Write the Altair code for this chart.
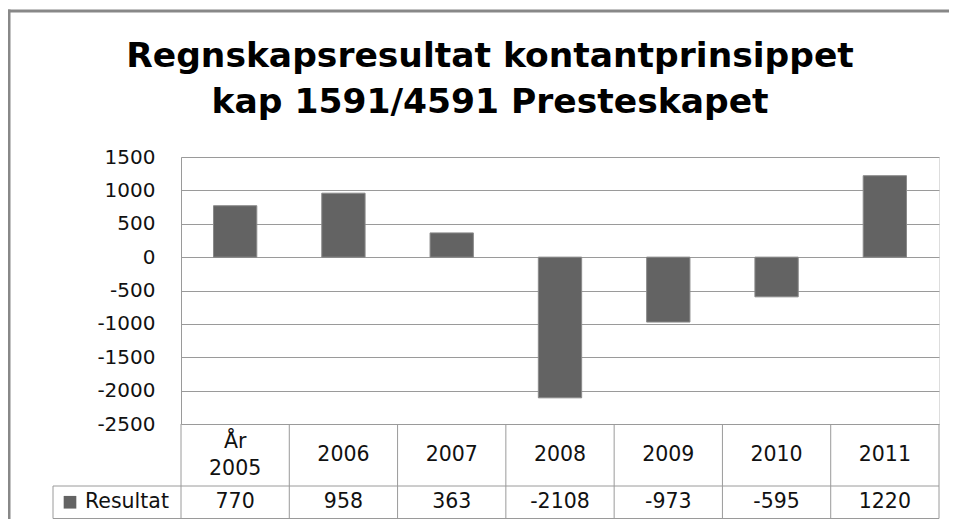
import altair as alt
import pandas as pd

# ---- data ----
year_labels = ["År\n2005", "2006", "2007", "2008", "2009", "2010", "2011"]
values = [770, 958, 363, -2108, -973, -595, 1220]
tick_values = [-2500, -2000, -1500, -1000, -500, 0, 500, 1000, 1500]
series_name = "Resultat"
title_lines = ["Regnskapsresultat kontantprinsippet", "kap 1591/4591 Presteskapet"]

df = pd.DataFrame({"label": year_labels, "value": values})

W, H = 758, 267
GRID = "#9a9a9a"
BAR = "#636363"
FONT = "DejaVu Sans"
TXT = "#111111"
ROW1 = 329      # bottom of header row (relative to plot top)
ROW2 = 361.5    # bottom of value row

xscale = alt.Scale(paddingInner=0, paddingOuter=0)
xenc = alt.X("label:N", sort=year_labels, scale=xscale, axis=None)

bars = alt.Chart(df).mark_bar(
    width=alt.RelativeBandSize(0.4), color=BAR, stroke="#8a8a8a", strokeWidth=1
).encode(
    x=xenc,
    y=alt.Y("value:Q", scale=alt.Scale(domain=[-2500, 1500], nice=False),
            axis=alt.Axis(values=tick_values, grid=True, gridColor=GRID, gridWidth=1,
                          domain=True, domainColor=GRID, ticks=False, tickSize=0,
                          labelPadding=26, labelFont=FONT, labelFontSize=20,
                          labelColor=TXT, title=None,
                          labelExpr="'' + datum.value")),
)

multi = alt.FieldOneOfPredicate(field="label", oneOf=[year_labels[0]])

header_multi = alt.Chart(df).transform_filter(multi).mark_text(
    font=FONT, fontSize=20.5, lineBreak="\n", lineHeight=27, baseline="middle",
    color=TXT
).encode(x=xenc, y=alt.value(284.5), text="label:N")

header_single = alt.Chart(df).transform_filter(alt.LogicalNotPredicate(**{"not": multi})).mark_text(
    font=FONT, fontSize=20.5, baseline="middle", color=TXT
).encode(x=xenc, y=alt.value(298), text="label:N")

vals = alt.Chart(df).transform_calculate(
    vtxt="'' + datum.value"
).mark_text(
    font=FONT, fontSize=20.5, baseline="middle", color=TXT
).encode(x=xenc, y=alt.value((ROW1 + ROW2) / 2), text="vtxt:N")

vlines = alt.Chart(df).mark_rule(color=GRID, strokeWidth=1).encode(
    x=alt.X("label:N", sort=year_labels, bandPosition=0, scale=xscale, axis=None),
    y=alt.value(H), y2=alt.value(ROW2),
)

one = pd.DataFrame({"k": [0]})
right_edge = alt.Chart(one).mark_rule(color=GRID).encode(
    x=alt.value(W), y=alt.value(H), y2=alt.value(ROW2))
hline1 = alt.Chart(one).mark_rule(color=GRID).encode(
    x=alt.value(-128), x2=alt.value(W), y=alt.value(ROW1))
hline2 = alt.Chart(one).mark_rule(color=GRID).encode(
    x=alt.value(-128), x2=alt.value(W), y=alt.value(ROW2))
legend_left = alt.Chart(one).mark_rule(color=GRID).encode(
    x=alt.value(-128), y=alt.value(ROW1), y2=alt.value(ROW2))

legend_sym = alt.Chart(one).mark_square(size=160, color=BAR, opacity=1).encode(
    x=alt.value(-111), y=alt.value((ROW1 + ROW2) / 2))
legend_txt = alt.Chart(pd.DataFrame({"t": [series_name]})).mark_text(
    font=FONT, fontSize=20.5, align="left", baseline="middle", color=TXT
).encode(x=alt.value(-96), y=alt.value((ROW1 + ROW2) / 2), text="t:N")

TFONT = "DejaVu Sans"
TSIZE = 34.5
title1 = alt.Chart(pd.DataFrame({"t": [title_lines[0]]})).mark_text(
    font=TFONT, fontWeight="bold", fontSize=TSIZE, align="center", baseline="alphabetic",
    color="#000000"
).encode(x=alt.value(309), y=alt.value(-90), text="t:N")
title2 = alt.Chart(pd.DataFrame({"t": [title_lines[1]]})).mark_text(
    font=TFONT, fontWeight="bold", fontSize=TSIZE, align="center", baseline="alphabetic",
    color="#000000"
).encode(x=alt.value(309), y=alt.value(-44), text="t:N")

border_top = alt.Chart(one).mark_rule(color="#888888", strokeWidth=3).encode(
    x=alt.value(-174), x2=alt.value(800), y=alt.value(-146))
border_left = alt.Chart(one).mark_rule(color="#888888", strokeWidth=3).encode(
    x=alt.value(-172), y=alt.value(-147.5), y2=alt.value(400))

chart = alt.layer(
    bars, vlines, right_edge, hline1, hline2, legend_left,
    header_multi, header_single, vals, legend_sym, legend_txt,
    title1, title2, border_top, border_left
).properties(
    width=W, height=H,
    autosize=alt.AutoSizeParams(type="none"),
    padding={"left": 173, "top": 149, "right": 10, "bottom": 95},
).configure_view(stroke=None).configure(background="white")

chart.save("out.html", embed_options={"renderer": "svg", "actions": False})
